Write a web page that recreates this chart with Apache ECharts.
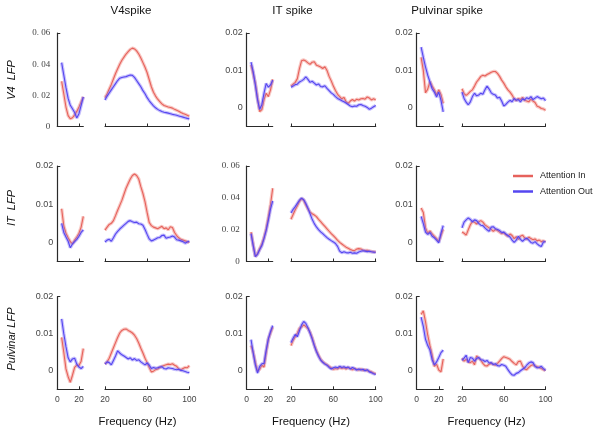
<!DOCTYPE html>
<html><head><meta charset="utf-8">
<script src="https://cdn.jsdelivr.net/npm/echarts@6/dist/echarts.min.js"></script>
<style>html,body{margin:0;padding:0;background:#fff}#c{width:601px;height:434px}</style>
</head><body><div id="c"></div>
<script>
// ---------- data (values in units of 1e-3) ----------
const colTitles = ['V4spike', 'IT spike', 'Pulvinar spike'];
const rowTitles = ['V4  LFP', 'IT  LFP', 'Pulvinar LFP'];
const seriesNames = ['Attention In', 'Attention Out'];
const xLabel = 'Frequency (Hz)';
const freqLow = [4, 6, 8, 10, 12, 14, 16, 18, 20, 22, 24];
const freqHigh = [20,22,24,26,28,30,32,34,36,38,40,42,44,46,48,50,52,54,56,58,60,62,64,66,68,70,72,74,76,78,80,82,84,86,88,90,92,94,96,98,100];
const bigTicks = [0, 20, 40, 60];
const smallTicks = [0, 10, 20];
const lowXTicks = [0, 20];
const highXTicks = [20, 60, 100];

// Row 1: V4 LFP
const r1c1LowIn  = [29, 21, 12.5, 7, 5, 5.6, 7.5, 9.7, 12.5, 15.8, 19];
const r1c1LowOut = [41, 33, 25, 18, 13.6, 11.4, 9, 5.5, 8.2, 13.6, 19];
const r1c1HighIn = [18.5,21,24,27,30.5,34,37,40,42.5,44.5,46.5,48,49.5,50.3,49.8,48.5,46.5,44,41,38,34.5,30,25.5,22,19.5,17.5,16,14.5,13.5,13,12.5,12.2,11.8,11,10.4,9.8,9,8.3,7.8,7.2,6.6];
const r1c1HighOut = [17,19.5,21.5,23.5,25.5,27.5,29.5,31,31.5,31.8,32,32.5,33,32.8,31.5,29.5,27.5,25.5,23,21,18.5,16.5,14.8,13.3,12,11,10.2,9.6,9.2,8.9,8.6,8.2,7.8,7.5,7.2,6.8,6.4,6,5.6,5.2,4.9];

const r1c2LowIn  = [11.5, 9.1, 6.5, 2.6, -1, -0.5, 2.2, 3.9, 3, 4.8, 7.6];
const r1c2LowOut = [12.2, 9.6, 6.1, 2.2, -0.4, 0.9, 3.9, 6.5, 5.5, 6.1, 7.4];
const r1c2HighIn = [5.8,6.3,6.8,7.8,10.5,12.6,12.8,12.5,12,11.6,12.2,12.3,11.4,11.2,10.9,10.5,11,10,8.4,7.2,5.8,4.6,3.6,3,2.4,2.8,1.6,1.2,1.8,2.2,1.8,2.3,2.1,2.4,2.5,2.3,2.9,2.6,2.1,2.4,2.1];
const r1c2HighOut = [5.5,5.8,6.2,6.3,6.9,7.2,7.6,8.3,7.6,6.8,7.1,6.6,6.1,6.4,5.7,5.6,5.9,5.2,4.6,4,3.6,3,2.5,2.2,1.9,1.6,1.3,0.9,0.5,0.3,0.5,0.4,0.8,0.9,0.6,0.4,0.1,-0.4,-0.1,0.3,0.6];

const r1c3LowIn  = [13.5, 10, 4, 5, 7, 5.8, 4.8, 3.5, 4.8, 3.5, 1.2];
const r1c3LowOut = [16.2, 13.5, 10.9, 8.7, 6.9, 5.1, 4.2, 2.9, 4.2, 2, -1.1];
const r1c3HighIn = [5.1,3.8,3.3,3.8,4.4,4.8,5.8,6.9,7.6,8.4,8.7,8.5,8.9,9.2,9.5,9.7,9.7,9.2,8.4,7.4,6.6,5.6,4.8,4.2,3.4,2.4,1.9,2.5,2.2,2.8,2,1.8,1.6,2.3,1.8,1.4,0.4,0.2,-0.2,-0.3,-0.7];
const r1c3HighOut = [4.2,2.5,1.5,0.8,1.6,3,3.9,3.2,3.4,3.9,3.6,4.8,5.8,5,4,3.6,3.4,2.6,2.8,1.8,0.5,0.9,1.5,2,1.6,2.5,2,2.2,1.6,2.4,2.1,2.7,2.4,3,2.2,2.6,3,2.7,2.4,2.6,1.9];

// Row 2: IT LFP
const r2c1LowIn  = [8.8, 4.3, 2.4, 1.2, 0.2, -0.4, 0.6, 1.4, 2.4, 4, 6.8];
const r2c1LowOut = [5, 2.6, 1.4, 0.3, -1.4, -0.4, 0.2, 0.8, 1.6, 2.6, 3.3];
const r2c1HighIn = [3.2,4,4.7,5,5.7,7,8.4,9.7,11,12.6,14.2,15.4,16.6,17.5,17.9,17.5,16.6,14.6,12.8,10.6,7.8,5.2,4.4,4,3.8,3.6,3.9,4.2,3.6,3.8,3.3,4.1,3.9,2.6,1.8,1.2,0.8,0.6,0.4,0.2,0];
const r2c1HighOut = [0.1,0.6,0.8,0.3,1.2,2.2,2.9,3.5,4,4.5,5,5.5,5.7,5.4,5.2,5.3,4.9,4.8,4.5,3.4,2.1,0.9,0.4,0.6,0.9,1.2,1.3,1.8,1.9,1.1,1.3,1.4,1.7,1.4,0.7,0.6,0.4,0.2,-0.2,0.1,0.3];

const r2c2LowIn  = [18.5, 10.5, 3.2, 5, 8, 11, 15, 20.5, 28, 36, 46];
const r2c2LowOut = [17.5, 10, 3, 4.5, 7.5, 10, 14.5, 19.5, 26, 33, 38];
const r2c2HighIn = [26.5,29.5,32.5,35,37.8,39.5,38.5,35.5,33,31,30,29.2,28.2,26.5,25,23.5,22,20.5,19,17.5,16.2,14.8,13.3,12,11,10,9,8.3,7.5,7,6.8,7.8,8.1,7.9,7.2,6.9,7,6.6,6.3,6.1,5.9];
const r2c2HighOut = [30.5,32.8,34.5,36.5,38.5,39.8,38.8,36.5,33.5,30,26.5,23.8,21.7,20,18.6,17.5,16.2,15,14,13.1,12.3,11.3,9.5,6.5,5.5,6.1,5.6,5.4,5.8,5.2,5.4,5.2,6,6.4,6.8,6.5,6.2,6.4,6.1,5.9,5.8];

const r2c3LowIn  = [9, 7.8, 3.8, 2.4, 3, 2.2, 1.6, 1, 0.3, 1.8, 3.4];
const r2c3LowOut = [6.8, 4.9, 2.7, 2.1, 2.6, 1.6, 1.2, 0.6, -0.1, 2.4, 4.4];
const r2c3HighIn = [2.7,2.4,1.9,3.3,4.6,5.5,5.3,4.8,5.4,5.7,5.3,4.6,4.2,3.8,3.4,2.9,3.4,3.1,2.7,2.3,2.5,2,1.6,2.2,1.8,1,1.5,0.8,1.6,1.9,1.2,0.8,1.4,1,0.7,0.9,0.4,0.6,0.2,0.4,0.1];
const r2c3HighOut = [3.8,5.3,5.9,6.4,6,5.4,5.9,5.7,5,4.5,4.4,3.8,3.3,2.9,4,4.1,3.6,3.4,3.1,2.6,2.7,2.2,1.8,1.4,0.6,0,0.6,1.6,0.8,0.3,0.8,1.1,0.6,0,-0.2,0.2,-0.4,-0.8,-1.1,0.1,0.2];

// Row 3: Pulvinar LFP
const r3c1LowIn  = [9, 5, 0.5, -1.6, -3.1, -1.2, 0.9, 1.5, 1.4, 2.6, 6];
const r3c1LowOut = [14, 10, 6.5, 3.5, 2.4, 3.2, 3.4, 1.8, 1, 0.6, 1.2];
const r3c1HighIn = [1.8,2.4,3.4,4.8,6.2,7.6,9,10.2,10.9,11.2,11.3,10.9,10.6,10.2,9.6,8.7,7.5,6.1,4.8,3.4,2.2,0.9,-0.3,-0.1,0.3,0.5,0.9,1.2,1.4,1.6,1.8,1.7,1.9,1.5,1.2,0.5,0.3,0.6,0.9,0.8,1.4];
const r3c1HighOut = [1.8,2.4,2.2,1.6,2.8,4,5.4,4.8,4.3,4,3.6,3.2,3.5,2.9,3.3,2.8,3,2.4,2,1.6,2.1,1.5,0.6,0.9,0.7,0.8,1,1.1,0.6,0.5,0.8,0.7,0.6,0.4,0.3,0.4,0.1,0,-0.2,-0.4,-0.5];

const r3c2LowIn  = [6.8, 5, 2.2, -0.1, 0.4, 1.5, 1, 5, 8.6, 10.2, 11.8];
const r3c2LowOut = [8.4, 4.8, 1.6, -0.6, 1.2, 1.9, 2, 5.6, 8.6, 10.6, 12.2];
const r3c2HighIn = [6.8,8.2,9.2,10.2,11.5,11.8,12.4,11.9,11.4,10.4,8.9,7,5.4,4.2,3.1,2.4,2,1.6,1.2,0.8,0.4,0.6,0.5,0.9,0.6,0.8,0.5,0.9,0.6,0.3,0.6,0.4,0.2,0.5,0.1,0.3,0,-0.1,-0.3,-0.6,-0.8];
const r3c2HighOut = [7.6,8.8,9.8,9.2,10.8,12.4,13.3,12.8,11.6,10.2,8.6,6.8,5.2,3.9,2.9,2.3,1.8,1.5,0.9,0.5,0.8,1,0.8,1.2,0.9,1.1,0.8,1,0.5,0.9,0.6,0.2,0.5,0.2,0.4,0,0.3,-0.3,-0.5,-0.8,-1];

const r3c3LowIn  = [15.2, 16.2, 13.2, 9.6, 6.8, 4.2, 1.2, 1.8, 0.2, -0.3, 3.2];
const r3c3LowOut = [14.5, 12, 8.5, 6.8, 5.6, 3, 1.6, 2.4, 3.6, 4.9, 5.6];
const r3c3HighIn = [3.4,2.6,3.1,2.4,2.2,2.6,1.6,4,3.4,2.9,2,1.4,1.3,1.8,2,1.7,1.5,2,2.6,3.3,3.8,3.6,3.4,3.1,2.5,2,1.6,2.5,2.6,1.3,0.5,0.3,0.9,1.4,1.6,1.3,1.1,0.9,0.6,0.3,0.1];
const r3c3HighOut = [2.8,3.4,4.2,2.2,3.6,3.4,2.6,3.3,3.6,3,2.9,2.5,2.8,2.1,2.2,1.7,1.9,1.4,1.3,1.7,1.5,1.2,0.3,-0.5,-1.1,-1.2,-0.7,-0.5,0,0.4,0.8,1.5,2.1,2.4,2.2,1.2,0.8,0.9,1.2,0.6,0.1];

// ---------- assembly ----------
const cells = [
  [[r1c1LowIn, r1c1LowOut, r1c1HighIn, r1c1HighOut], [r1c2LowIn, r1c2LowOut, r1c2HighIn, r1c2HighOut], [r1c3LowIn, r1c3LowOut, r1c3HighIn, r1c3HighOut]],
  [[r2c1LowIn, r2c1LowOut, r2c1HighIn, r2c1HighOut], [r2c2LowIn, r2c2LowOut, r2c2HighIn, r2c2HighOut], [r2c3LowIn, r2c3LowOut, r2c3HighIn, r2c3HighOut]],
  [[r3c1LowIn, r3c1LowOut, r3c1HighIn, r3c1HighOut], [r3c2LowIn, r3c2LowOut, r3c2HighIn, r3c2HighOut], [r3c3LowIn, r3c3LowOut, r3c3HighIn, r3c3HighOut]]
];
const bigCell = [[true, false, false], [false, true, false], [false, false, false]];

const rowTop = [33, 166, 296.7];
const rowH = [93.5, 95.5, 92.6];
const lowL = [57.3, 246.7, 416.7];
const lowW = [26, 26, 26.5];
const highL = [105, 291, 462];
const highW = [84.3, 84.7, 83.5];

const SANS = '"Liberation Sans", Arial, Helvetica, sans-serif';
const SERIF = '"Liberation Serif", "DejaVu Serif", serif';
const AX = '#2a2a2a';
const RED = '#e6625c', RED_BAND = 'rgba(240,130,122,0.45)';
const BLUE = '#5546f0', BLUE_BAND = 'rgba(128,114,248,0.45)';

const grid = [], xAxis = [], yAxis = [], series = [];
function pairs(fr, arr) { return fr.map((f, i) => [f, arr[i]]); }

for (let r = 0; r < 3; r++) {
  for (let c = 0; c < 3; c++) {
    const big = bigCell[r][c];
    const yMin = big ? 0 : -5, yMax = big ? 60 : 20;
    const yTicks = big ? bigTicks : smallTicks;
    const d = cells[r][c];
    const last = r === 2;
    // low-frequency panel
    const gi = grid.length;
    grid.push({ left: lowL[c], top: rowTop[r], width: lowW[c], height: rowH[r], containLabel: false, outerBoundsMode: 'none' });
    xAxis.push({
      type: 'value', gridIndex: gi, min: 0, max: 24,
      axisLine: { show: true, onZero: false, lineStyle: { color: AX, width: 1.2 } },
      axisTick: { show: true, inside: true, length: 3, customValues: [20], lineStyle: { color: AX } },
      axisLabel: { show: last, customValues: lowXTicks, fontSize: 8.5, color: '#444', margin: 6, fontFamily: SANS },
      splitLine: { show: false }
    });
    yAxis.push({
      type: 'value', gridIndex: gi, min: yMin, max: yMax,
      axisLine: { show: true, onZero: false, lineStyle: { color: AX, width: 1.2 } },
      axisTick: { show: true, inside: true, length: 3, customValues: [yMax], lineStyle: { color: AX } },
      axisLabel: {
        show: true, customValues: yTicks, fontSize: 9, color: '#444',
        margin: big ? 7 : 4, fontFamily: big ? SERIF : SANS,
        formatter: v => v === 0 ? '0' : (big ? (v / 1000).toFixed(2).replace('.', '. ') : (v / 1000).toFixed(2))
      },
      splitLine: { show: false }
    });
    // high-frequency panel
    const gh = grid.length;
    grid.push({ left: highL[c], top: rowTop[r], width: highW[c], height: rowH[r], containLabel: false, outerBoundsMode: 'none' });
    xAxis.push({
      type: 'value', gridIndex: gh, min: 20, max: 100,
      axisLine: { show: true, onZero: false, lineStyle: { color: AX, width: 1.2 } },
      axisTick: { show: true, inside: true, length: 3, customValues: highXTicks, lineStyle: { color: AX } },
      axisLabel: { show: last, customValues: highXTicks, fontSize: 8.5, color: '#444', margin: 6, fontFamily: SANS },
      splitLine: { show: false }
    });
    yAxis.push({ type: 'value', gridIndex: gh, min: yMin, max: yMax, show: false, splitLine: { show: false } });

    const sets = [[gi, freqLow, d[0], d[1]], [gh, freqHigh, d[2], d[3]]];
    sets.forEach(([g, fr, inArr, outArr]) => {
      [[inArr, RED, RED_BAND, seriesNames[0]], [outArr, BLUE, BLUE_BAND, seriesNames[1]]].forEach(([arr, col, band, nm]) => {
        series.push({ type: 'line', name: nm + ' band', xAxisIndex: g, yAxisIndex: g, data: pairs(fr, arr),
          showSymbol: false, symbol: 'none', silent: true, color: band, lineStyle: { color: band, width: 3.4 } });
        series.push({ type: 'line', name: nm, xAxisIndex: g, yAxisIndex: g, data: pairs(fr, arr),
          showSymbol: false, symbol: 'none', silent: true, color: col, itemStyle: { color: col }, lineStyle: { color: col, width: 1.1 } });
      });
    });
  }
}

const graphic = [];
const titleX = [131, 292.5, 447];
colTitles.forEach((t, i) => graphic.push({ type: 'text', x: titleX[i], y: 11, style: { text: t, fill: '#111', font: '11.5px ' + SANS, textAlign: 'center', textVerticalAlign: 'middle' } }));
const rowLabY = [80, 208, 339];
rowTitles.forEach((t, i) => graphic.push({ type: 'text', x: 12, y: rowLabY[i], rotation: Math.PI / 2, style: { text: t, fill: '#111', font: 'italic 11px ' + SANS, textAlign: 'center', textVerticalAlign: 'middle' } }));
const freqX = [137.5, 311, 486.5];
freqX.forEach(x => graphic.push({ type: 'text', x: x, y: 422, style: { text: xLabel, fill: '#111', font: '11.3px ' + SANS, textAlign: 'center', textVerticalAlign: 'middle' } }));

const chart = echarts.init(document.getElementById('c'), null, { renderer: 'canvas', width: 601, height: 434 });
chart.setOption({
  backgroundColor: '#fff',
  animation: false,
  grid, xAxis, yAxis, series, graphic,
  legend: {
    data: seriesNames, orient: 'vertical', left: 508, top: 165, icon: 'rect',
    itemWidth: 20, itemHeight: 2.5, itemGap: 3.5, selectedMode: false,
    textStyle: { fontSize: 9, color: '#222', fontFamily: SANS, lineHeight: 12, padding: [0, 0, 0, 2] }
  }
});
</script></body></html>
